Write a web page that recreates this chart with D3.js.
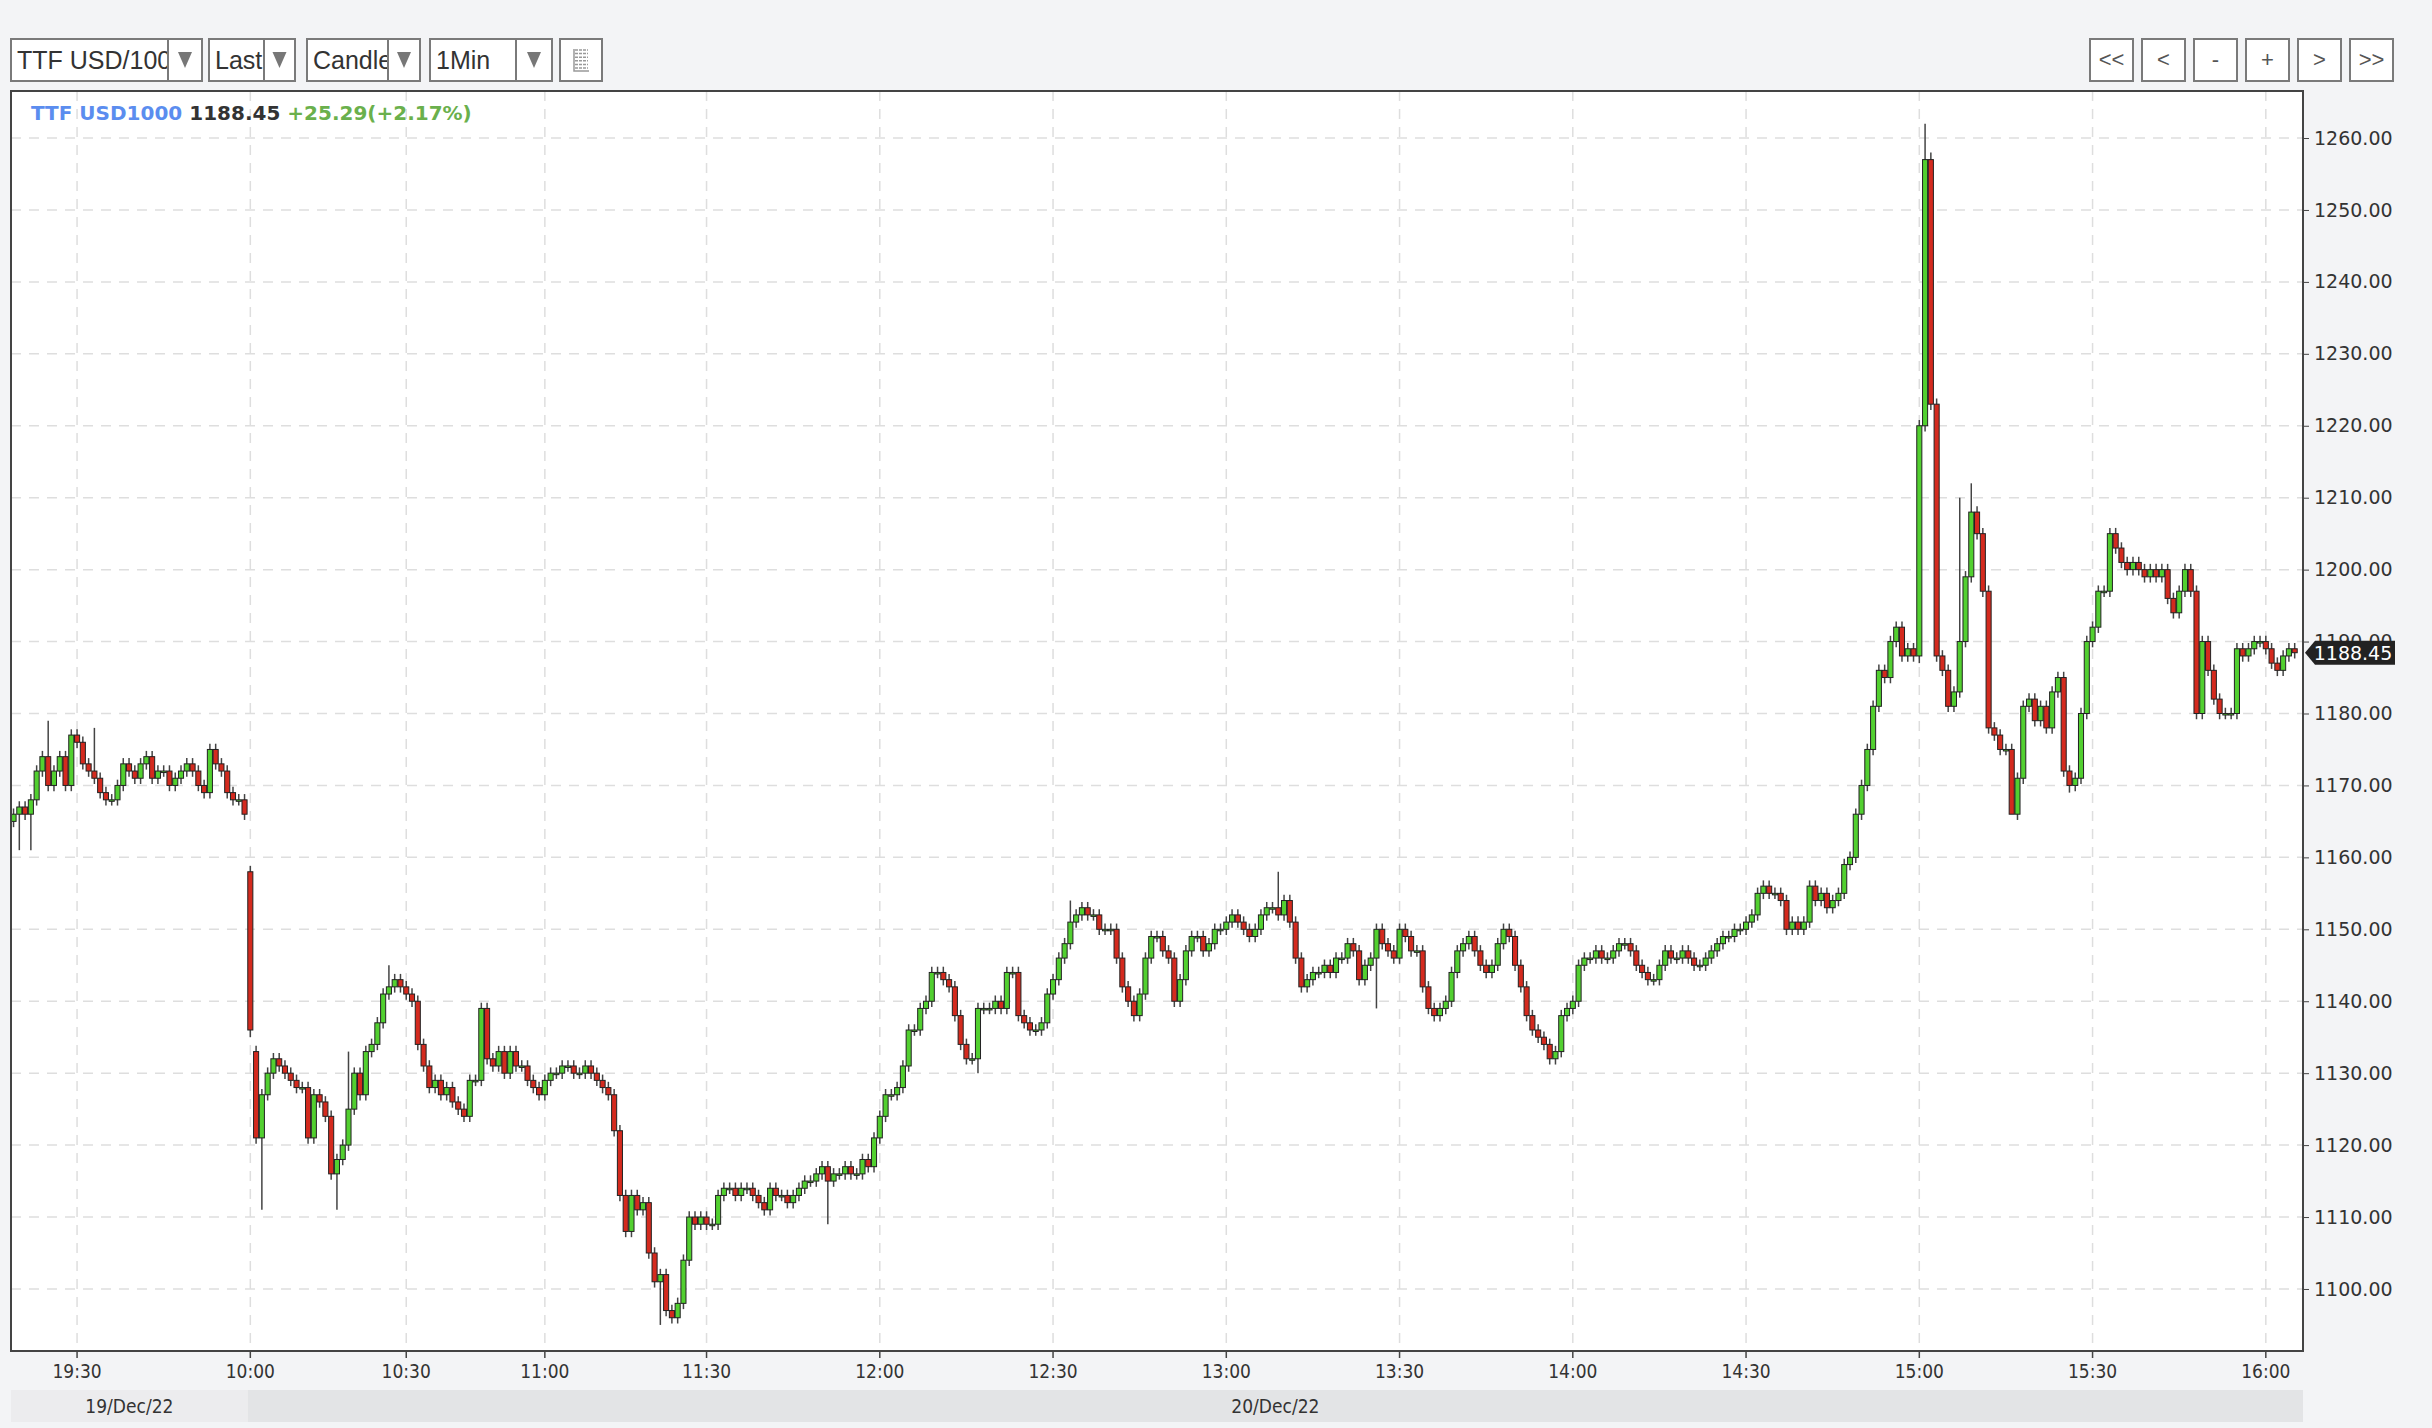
<!DOCTYPE html>
<html>
<head>
<meta charset="utf-8">
<script src="https://cdnjs.cloudflare.com/ajax/libs/d3/7.8.5/d3.min.js"></script>
<style>
  body { margin: 0; background: #f3f4f6; }
  svg { display: block; }
</style>
</head>
<body>
<svg id="chart" width="2432" height="1428"></svg>
<script>
// closes, one per candle (index slot)
const closes = [
  1166,1167,1166,1168,1172,1174,1170,1172,1174,1170,1177,1176,1173,1172,1171,1169,1168,1168,1170,1173,
  1172,1171,1173,1174,1171,1172,1172,1170,1171,1172,1173,1172,1170,1169,1175,1173,1172,1169,1168,1168,1166,
  // 10:00
  1136,1121,1127,1130,1132,1131,1130,1129,1128,1128,1121,1127,1126,1124,1116,1118,1120,1125,1130,1127,1133,1134,1137,1141,1142,1143,1142,
  // 10:30
  1141,1140,1134,1131,1128,1129,1127,1128,1126,1125,1124,1129,1129,1139,1132,1131,1133,1130,1133,1131,1131,1129,1128,1127,
  // 11:00
  1129,1130,1130,1131,1131,1130,1130,1131,1130,1129,1128,1127,1122,1113,1108,1113,1111,1112,1105,1101,1102,1097,1096,1098,1104,1110,1109,1110,
  // 11:30
  1109,1109,1113,1114,1114,1113,1114,1114,1113,1112,1111,1114,1113,1113,1112,1113,1114,1115,1115,1116,1117,1115,1116,1116,1117,1116,1116,1118,1117,1121,
  // 12:00
  1124,1127,1127,1128,1131,1136,1136,1139,1140,1144,1144,1143,1142,1138,1134,1132,1132,1139,1139,1139,1140,1139,1144,1144,1138,1137,1136,1136,1137,1141,
  // 12:30
  1143,1146,1148,1151,1152,1153,1152,1152,1150,1150,1150,1146,1142,1140,1138,1141,1146,1149,1149,1147,1146,1140,1143,1147,1149,1149,1147,1148,1150,1150,
  // 13:00
  1151,1152,1151,1150,1149,1150,1152,1153,1153,1152,1154,1151,1146,1142,1143,1144,1144,1145,1144,1146,1146,1148,1147,1143,1145,1146,1150,1148,1147,1146,
  // 13:30
  1150,1149,1147,1147,1142,1139,1138,1139,1140,1144,1147,1148,1149,1147,1145,1144,1145,1148,1150,1149,1145,1142,1138,1136,1135,1134,1132,1133,1138,1139,
  // 14:00
  1140,1145,1146,1146,1147,1146,1146,1147,1148,1148,1147,1145,1144,1143,1143,1145,1147,1146,1146,1147,1146,1145,1145,1146,1147,1148,1149,1149,1150,1150,
  // 14:30
  1151,1152,1155,1156,1155,1155,1154,1150,1151,1150,1151,1156,1154,1155,1153,1154,1155,1159,1160,1166,1170,1175,1181,1186,1185,1190,1192,1188,1189,1188,
  // 15:00
  1220,1257,1223,1188,1186,1181,1183,1190,1199,1208,1205,1197,1178,1177,1175,1175,1166,1171,1181,1182,1179,1181,1178,1183,1185,1172,1170,1171,1180,1190,
  // 15:30
  1192,1197,1197,1205,1203,1201,1200,1201,1200,1199,1200,1199,1200,1196,1194,1197,1200,1197,1180,1190,1186,1182,1180,1180,1180,1189,1188,1189,1190,1190,
  // 16:00
  1189,1187,1186,1188,1189,1188.45
];
const firstOpen = 1165;
const gapOpens = [{ i: 41, o: 1158 }, { i: 42, o: 1133 }];
const highs = [
  { i: 6, v: 1179 }, { i: 14, v: 1178 }, { i: 331, v: 1262 }, { i: 332, v: 1258 }, { i: 219, v: 1158 },
  { i: 337, v: 1210 }, { i: 339, v: 1212 }, { i: 58, v: 1133 }, { i: 65, v: 1145 }, { i: 183, v: 1154 }
];
const lows = [
  { i: 1, v: 1161 }, { i: 3, v: 1161 }, { i: 41, v: 1135 }, { i: 43, v: 1111 }, { i: 56, v: 1111 },
  { i: 112, v: 1095 }, { i: 141, v: 1109 }, { i: 330, v: 1187 }, { i: 346, v: 1170 }, { i: 356, v: 1169 },
  { i: 236, v: 1139 }, { i: 167, v: 1130 }
];
const yTicks = [1100,1110,1120,1130,1140,1150,1160,1170,1180,1190,1200,1210,1220,1230,1240,1250,1260];
const xTicks = [
  { label: "19:30", i: 11 }, { label: "10:00", i: 41 }, { label: "10:30", i: 68 }, { label: "11:00", i: 92 },
  { label: "11:30", i: 120 }, { label: "12:00", i: 150 }, { label: "12:30", i: 180 }, { label: "13:00", i: 210 },
  { label: "13:30", i: 240 }, { label: "14:00", i: 270 }, { label: "14:30", i: 300 }, { label: "15:00", i: 330 },
  { label: "15:30", i: 360 }, { label: "16:00", i: 390 }
];
const dates = [{ label: "19/Dec/22", from: 0, to: 41 }, { label: "20/Dec/22", from: 41, to: 397 }];
const lastPrice = 1188.45;

const svg = d3.select("#chart");
const L = 11, T = 91, R = 2303, B = 1351;

const x = d3.scaleBand().domain(d3.range(397)).range([L, R]).paddingInner(0.12).paddingOuter(0);
// 1260 sits at y=138, 1100 at y=1289
const y = d3.scaleLinear()
  .domain([1260 + (138 - T) / 7.19, 1100 - (B - 1289) / 7.19])
  .range([T, B]);

// toolbar
const tb = svg.append("g").attr("font-family", "Liberation Sans, Arial, sans-serif");
const selects = [
  { t: "TTF USD/100", x: 11, w: 191, d: 157 }, { t: "Last", x: 209, w: 86, d: 55 },
  { t: "Candle", x: 307, w: 113, d: 81 }, { t: "1Min", x: 430, w: 122, d: 86 }
];
selects.forEach(s => {
  const g = tb.append("g");
  g.append("rect").attr("x", s.x).attr("y", 39).attr("width", s.w).attr("height", 42)
    .attr("fill", "#fff").attr("stroke", "#7a7a7a").attr("stroke-width", 2);
  g.append("text").attr("x", s.x + 6).attr("y", 69).attr("font-size", 25).attr("fill", "#333").text(s.t);
  g.append("rect").attr("x", s.x + s.d).attr("y", 40).attr("width", s.w - s.d - 1).attr("height", 40).attr("fill", "#fff");
  g.append("line").attr("x1", s.x + s.d).attr("x2", s.x + s.d).attr("y1", 39).attr("y2", 81)
    .attr("stroke", "#7a7a7a").attr("stroke-width", 2);
  const ax = s.x + s.d + (s.w - s.d) / 2;
  g.append("path").attr("d", `M${ax - 7},52 h14 l-7,16 z`).attr("fill", "#777");
});
tb.append("rect").attr("x", 560).attr("y", 39).attr("width", 42).attr("height", 42)
  .attr("fill", "#fff").attr("stroke", "#7a7a7a").attr("stroke-width", 2);
for (let k = 0; k < 6; k++) {
  tb.append("line").attr("x1", 575).attr("x2", 588).attr("y1", 50 + k * 3.6).attr("y2", 50 + k * 3.6)
    .attr("stroke", "#999").attr("stroke-width", 1.5).attr("stroke-dasharray", "3,1");
}
tb.append("path").attr("d", "M574,49 V71 H589").attr("stroke", "#999").attr("fill", "none").attr("stroke-width", 1.5);
["<<", "<", "-", "+", ">", ">>"].forEach((t, k) => {
  const bx = 2090 + k * 52;
  tb.append("rect").attr("x", bx).attr("y", 39).attr("width", 43).attr("height", 42)
    .attr("fill", "#fff").attr("stroke", "#7a7a7a").attr("stroke-width", 2);
  tb.append("text").attr("x", bx + 21.5).attr("y", 67).attr("text-anchor", "middle")
    .attr("font-size", 22).attr("fill", "#555").text(t);
});

// plot area
svg.append("rect").attr("x", L).attr("y", T).attr("width", R - L).attr("height", B - T).attr("fill", "#fff");
const grid = svg.append("g").attr("stroke", "#dedede").attr("stroke-width", 1.5).attr("stroke-dasharray", "10,8");
yTicks.forEach(v => grid.append("line").attr("x1", L).attr("x2", R).attr("y1", y(v)).attr("y2", y(v)));
xTicks.forEach(t => {
  const cx = x(t.i) + x.bandwidth() / 2;
  grid.append("line").attr("x1", cx).attr("x2", cx).attr("y1", T).attr("y2", B);
});

// candles
const hi = new Map(highs.map(d => [d.i, d.v]));
const lo = new Map(lows.map(d => [d.i, d.v]));
const go = new Map(gapOpens.map(d => [d.i, d.o]));
const candles = closes.map((c, i) => {
  const o = go.has(i) ? go.get(i) : (i === 0 ? firstOpen : closes[i - 1]);
  return { i, o, c, h: hi.has(i) ? hi.get(i) : Math.max(o, c) + 0.8, l: lo.has(i) ? lo.get(i) : Math.min(o, c) - 0.8 };
});
const cg = svg.append("g");
const bw = x.bandwidth();
cg.selectAll("line.wick").data(candles).join("line")
  .attr("x1", d => x(d.i) + bw / 2).attr("x2", d => x(d.i) + bw / 2)
  .attr("y1", d => y(d.h)).attr("y2", d => y(d.l))
  .attr("stroke", "#444").attr("stroke-width", 1.5);
cg.selectAll("rect.body").data(candles).join("rect")
  .attr("x", d => x(d.i)).attr("width", bw)
  .attr("y", d => y(Math.max(d.o, d.c)))
  .attr("height", d => Math.max(1.5, Math.abs(y(d.o) - y(d.c))))
  .attr("fill", d => d.c >= d.o ? "#52d030" : "#d42a1e")
  .attr("stroke", "#222").attr("stroke-width", 1);

// border
svg.append("rect").attr("x", L).attr("y", T).attr("width", R - L).attr("height", B - T)
  .attr("fill", "none").attr("stroke", "#444").attr("stroke-width", 2);

// header
const hd = svg.append("text").attr("x", 31).attr("y", 120).attr("font-family", "DejaVu Sans, sans-serif")
  .attr("font-size", 20).attr("font-weight", "bold");
hd.append("tspan").attr("fill", "#5b8def").text("TTF USD1000 ");
hd.append("tspan").attr("fill", "#333").text(lastPrice.toFixed(2) + " ");
hd.append("tspan").attr("fill", "#6ab04c").text("+25.29(+2.17%)");

// y axis
const ya = svg.append("g").attr("transform", `translate(${R},0)`)
  .call(d3.axisRight(y).tickValues(yTicks).tickSize(6).tickFormat(d3.format(".2f")));
ya.select(".domain").remove();
ya.selectAll("text").attr("font-family", "DejaVu Sans, sans-serif").attr("font-size", 19).attr("fill", "#333").attr("dx", 2);
ya.selectAll("line").attr("stroke", "#444");

// last price tag
const ly = y(lastPrice);
svg.append("path").attr("d", `M${R + 2},${ly} l10,-12 h80 v24 h-80 z`).attr("fill", "#222");
svg.append("text").attr("x", R + 50).attr("y", ly + 7).attr("text-anchor", "middle")
  .attr("font-family", "DejaVu Sans, sans-serif").attr("font-size", 19).attr("fill", "#fff").text(lastPrice.toFixed(2));

// x axis
const xa = svg.append("g").attr("transform", `translate(0,${B})`);
xTicks.forEach(t => {
  const cx = x(t.i) + bw / 2;
  xa.append("line").attr("x1", cx).attr("x2", cx).attr("y1", 0).attr("y2", 7).attr("stroke", "#444").attr("stroke-width", 1.5);
  xa.append("text").attr("x", cx).attr("y", 27).attr("text-anchor", "middle")
    .attr("font-family", "DejaVu Sans Condensed, DejaVu Sans, sans-serif").attr("font-size", 19).attr("fill", "#333").text(t.label);
});

// date bar
dates.forEach((d, k) => {
  const x0 = k === 0 ? L : x(d.from), x1 = k === dates.length - 1 ? R : x(d.to);
  svg.append("rect").attr("x", x0).attr("y", 1390).attr("width", x1 - x0).attr("height", 32)
    .attr("fill", k === 0 ? "#ececee" : "#e3e4e6");
  svg.append("text").attr("x", (x0 + x1) / 2).attr("y", 1413).attr("text-anchor", "middle")
    .attr("font-family", "DejaVu Sans Condensed, DejaVu Sans, sans-serif").attr("font-size", 19).attr("fill", "#333").text(d.label);
});
</script>
</body>
</html>
